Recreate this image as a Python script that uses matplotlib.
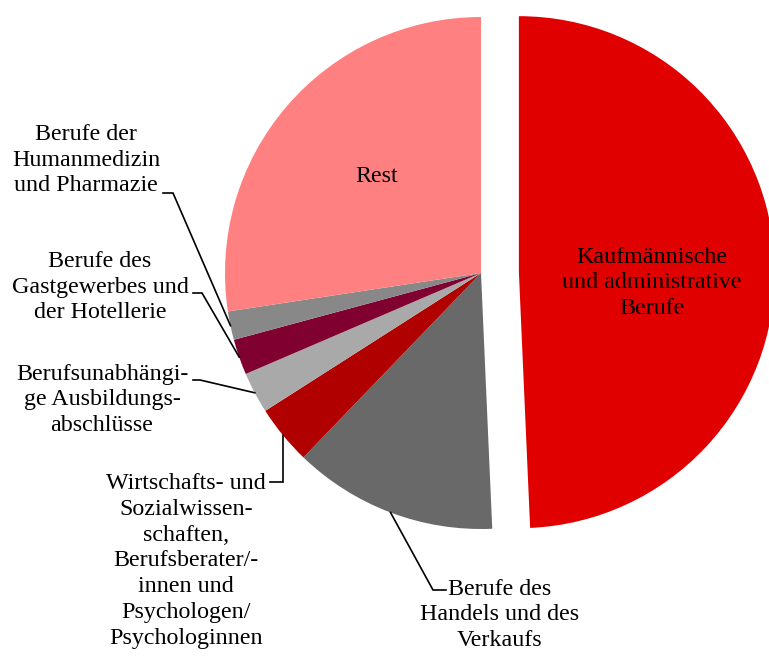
import numpy as np
import matplotlib.pyplot as plt

plt.rcParams['font.family'] = ['Liberation Serif', 'DejaVu Serif']

# Anteile in Prozent (im Uhrzeigersinn ab 12 Uhr)
labels = [
    "Kaufmännische\nund administrative\nBerufe",
    "Berufe des\nHandels und des\nVerkaufs",
    "Wirtschafts- und\nSozialwissen-\nschaften,\nBerufsberater/-\ninnen und\nPsychologen/\nPsychologinnen",
    "Berufsunabhängi-\nge Ausbildungs-\nabschlüsse",
    "Berufe des\nGastgewerbes und\nder Hotellerie",
    "Berufe der\nHumanmedizin\nund Pharmazie",
    "Rest",
]
values = [49.3, 12.9, 3.75, 2.6, 2.25, 1.8, 27.4]
colors = ["#E00000", "#696969", "#B00000", "#A9A9A9", "#800030", "#888888", "#FF8080"]
explode = [0.148, 0, 0, 0, 0, 0, 0]

W, H = 769, 658
R = 256.0           # Radius in Pixel
cx, cy = 481, 273   # Mittelpunkt in Pixel


def px(x, y):
    # Pixelposition -> Datenkoordinaten (Radius = 1)
    return (x - cx) / R, (cy - y) / R


fig = plt.figure(figsize=(W / 100, H / 100), dpi=100)
ax = fig.add_axes([0, 0, 1, 1])
wedges, _ = ax.pie(values, colors=colors, explode=explode, startangle=90,
                   counterclock=False, radius=1,
                   wedgeprops=dict(linewidth=0))
ax.set_xlim(-cx / R, (W - cx) / R)
ax.set_ylim(-(H - cy) / R, cy / R)
ax.set_aspect('equal')
ax.axis('off')

fs = 17.3
ls = 1.31

# Beschriftungen innerhalb der Tortenstücke
ax.text(*px(652, 283), labels[0], ha='center', va='center', fontsize=fs,
        linespacing=ls, multialignment='center')
ax.text(*px(377, 177), labels[6], ha='center', va='center', fontsize=fs)

# Beschriftungen außen mit Führungslinien: (Textmitte, Knick, Textende)
outside = {
    1: ((500, 615), (433, 590), (446, 590)),
    2: ((186, 561), (283, 482), (270, 482)),
    3: ((102, 400), (200, 380), (193, 380)),
    4: ((100, 287), (202, 293), (193, 293)),
    5: ((86, 160), (173, 193), (163, 193)),
}

cum = np.cumsum([0] + values)
for i, (tpos, knee, tend) in outside.items():
    mid = 90 - (cum[i] + values[i] / 2) / 100 * 360
    ex, ey = np.cos(np.radians(mid)), np.sin(np.radians(mid))
    kx, ky = px(*knee)
    tx, ty = px(*tend)
    ax.plot([ex, kx, tx], [ey, ky, ty], color='black', lw=1.2,
            solid_joinstyle='miter')
    ax.text(*px(*tpos), labels[i], ha='center', va='center', fontsize=fs,
            linespacing=ls, multialignment='center')

fig.savefig("out.png", dpi=100)
